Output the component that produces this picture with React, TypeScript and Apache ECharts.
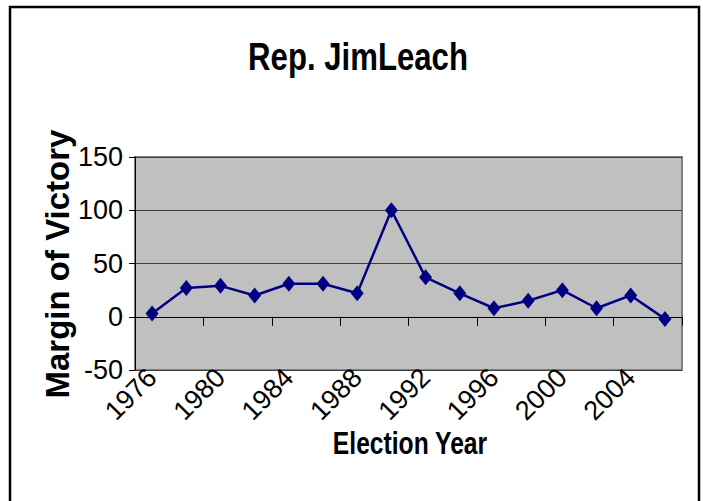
import React, { useEffect, useRef } from "react";
import * as echarts from "echarts";

const years = ["1976","1978","1980","1982","1984","1986","1988","1990","1992","1994","1996","1998","2000","2002","2004","2006"];
const margins = [3, 27, 29, 20, 31, 31, 22, 100, 37, 22, 8, 15, 25, 8, 20, -2];
const yTicks = { min: -50, max: 150, interval: 50 };

const FONT = "'Liberation Sans', Arial, sans-serif";

export default function App() {
  const ref = useRef<HTMLDivElement>(null);
  useEffect(() => {
    if (!ref.current) return;
    const chart = echarts.init(ref.current, null, { renderer: "svg" });
    chart.setOption({
      animation: false,
      backgroundColor: "#ffffff",
      grid: {
        left: 135,
        right: 21,
        top: 157,
        bottom: 131,
        show: true,
        backgroundColor: "#c0c0c0",
        borderColor: "#808080",
        borderWidth: 2,
      },
      xAxis: {
        type: "category",
        data: years,
        boundaryGap: true,
        axisLine: { show: true, onZero: true, lineStyle: { color: "#000", width: 1 } },
        axisTick: { show: true, inside: false, length: 9, lineStyle: { color: "#000" } },
        axisLabel: {
          interval: 1,
          rotate: 45,
          margin: 3,
          fontSize: 27,
          color: "#000",
          fontFamily: FONT,
        },
        splitLine: { show: false },
      },
      yAxis: {
        type: "value",
        min: yTicks.min,
        max: yTicks.max,
        interval: yTicks.interval,
        axisLine: { show: true, lineStyle: { color: "#000", width: 1 } },
        axisTick: { show: true, length: 6, lineStyle: { color: "#000" } },
        axisLabel: { fontSize: 27, color: "#000", margin: 12, fontFamily: FONT },
        splitLine: { show: true, lineStyle: { color: "#404040", width: 1 } },
      },
      series: [
        {
          type: "line",
          data: margins,
          symbol: "diamond",
          symbolSize: [13, 16],
          lineStyle: { color: "#000080", width: 2.5 },
          itemStyle: { color: "#000080" },
        },
      ],
      graphic: [
        {
          type: "rect",
          silent: true,
          shape: { x: 10, y: 7, width: 689, height: 600 },
          style: { fill: "none", stroke: "#000", lineWidth: 2.5 },
          z: 100,
        },
        {
          type: "text",
          x: 358,
          y: 57,
          scaleX: 0.82,
          style: {
            text: "Rep. JimLeach",
            fontSize: 38,
            fontWeight: "bold",
            fontFamily: FONT,
            fill: "#000",
            textAlign: "center",
            textVerticalAlign: "middle",
          },
        },
        {
          type: "text",
          x: 57,
          y: 264,
          rotation: Math.PI / 2,
          style: {
            text: "Margin of Victory",
            fontSize: 33,
            fontWeight: "bold",
            fontFamily: FONT,
            fill: "#000",
            textAlign: "center",
            textVerticalAlign: "middle",
          },
        },
        {
          type: "text",
          x: 410,
          y: 443,
          scaleX: 0.77,
          style: {
            text: "Election Year",
            fontSize: 32,
            fontWeight: "bold",
            fontFamily: FONT,
            fill: "#000",
            textAlign: "center",
            textVerticalAlign: "middle",
          },
        },
      ],
    });
    return () => chart.dispose();
  }, []);
  return (
    <div
      ref={ref}
      style={{ position: "fixed", left: 0, top: 0, width: 703, height: 501 }}
    />
  );
}
